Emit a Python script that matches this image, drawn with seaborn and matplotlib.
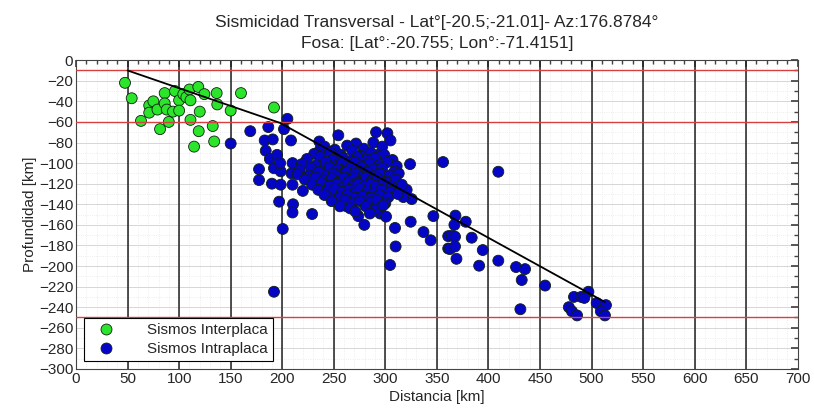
import pandas as pd
import seaborn as sns
import matplotlib.pyplot as plt
from matplotlib.ticker import MultipleLocator

# Sismos interplaca (verde)
inter_x = [47.5, 54, 63, 71, 75, 71, 79, 81.5, 86, 86, 88, 90, 94, 96, 100, 100, 104, 107,
           110, 111, 111, 114.5, 118.6, 120, 119, 124.5, 132.6, 134, 136.4, 137, 150, 160, 192]
inter_y = [-22, -37, -59, -44, -40, -51, -48, -67, -32, -42, -48, -60, -50, -30, -39, -49, -33, -36,
           -28.5, -39, -58, -84, -26, -50, -69, -33, -64, -79, -32, -43, -49, -32, -46]

# Sismos intraplaca (azul) - dispersos
intra_x = [150, 169, 186.5, 205, 201.7, 183, 190.8, 208.5, 184, 188, 195, 192, 198.5, 198, 177.5,
           177.5, 190, 198.5, 197, 210, 209, 210, 220, 210.5, 210, 229, 200.5, 236, 236.7, 254.4,
           271.6, 291, 288.4, 302, 305, 324, 356, 320.7, 325.6, 317.5, 309.4, 310, 324.6, 346.6,
           337, 344, 361, 361, 279.6, 273.8, 295, 300.7, 262.5, 249.6, 293, 409.6, 304.6, 368, 367,
           378, 364.4, 367.6, 383.8, 362.7, 367.6, 369, 394.5, 391, 409.6, 426.8, 435.5, 432.3,
           455, 431, 483, 490, 497, 493, 505, 478, 481, 486, 514, 509, 513, 192]
intra_y = [-81, -69, -65, -57, -67, -78, -77, -78, -88, -96, -92, -105, -108, -100, -106,
           -116.5, -120, -121, -137.5, -100, -110, -121, -127, -140, -148, -149.5, -164, -79, -87, -73,
           -81, -70, -80, -71, -78, -101, -99, -126, -135, -133, -163, -181, -157, -151.5,
           -167, -175, -171, -183, -160, -151.5, -149, -152, -142, -131, -92, -108.4, -199, -151, -160,
           -157, -170.5, -171.5, -172.5, -183.5, -181, -193, -184.5, -199.7, -194.8, -201, -203, -213.6,
           -219, -242, -230, -230, -225, -231, -236, -240, -244, -248, -238, -244, -248, -225]

# Sismos intraplaca - nube densa
cluster_x = [241, 251, 263, 279, 297,
             231, 246, 257, 268, 276, 286, 299,
             224, 237, 249, 259, 266, 273, 282, 290, 307,
             219, 233, 242, 252, 258, 264, 270, 278, 284, 294, 302, 311,
             217, 228, 239, 246, 254, 261, 266, 271, 277, 283, 289, 297, 309,
             215, 226, 235, 243, 250, 256, 262, 267, 272, 278, 283, 290, 295, 304, 313,
             222, 232, 240, 248, 255, 260, 265, 270, 275, 281, 287, 292, 301, 310,
             229, 238, 246, 253, 259, 264, 269, 274, 279, 286, 291, 298, 306, 316,
             235, 244, 251, 258, 265, 270, 276, 283, 289, 296, 305,
             241, 256, 263, 271, 278, 286, 294, 303, 312,
             248, 261, 268, 276, 285, 292, 300,
             256, 266, 281, 290, 298,
             271, 285]
cluster_y = [-84, -87, -83, -86, -84,
             -91, -89, -92, -88, -93, -90, -92,
             -96, -94, -97, -95, -98, -94, -97, -95, -97,
             -101, -102, -99, -103, -100, -102, -99, -103, -100, -102, -99, -103,
             -107, -105, -108, -104, -106, -108, -105, -107, -104, -108, -106, -105, -108,
             -111, -112, -109, -113, -110, -112, -109, -113, -110, -112, -109, -113, -110, -112, -110,
             -116, -114, -117, -115, -118, -114, -117, -115, -118, -114, -117, -115, -118, -116,
             -121, -119, -122, -120, -123, -119, -122, -120, -123, -120, -122, -120, -123, -121,
             -126, -127, -125, -128, -126, -129, -125, -127, -129, -126, -128,
             -131, -133, -131, -134, -132, -134, -131, -133, -130,
             -137, -136, -139, -137, -138, -136, -139,
             -142, -144, -142, -145, -141,
             -147, -149]

# Perfil de la placa
slab_x = [50, 198, 513]
slab_y = [-10, -61, -235]

# Lineas de referencia
ref_depths = [-10, -60, -250]

df = pd.concat([
    pd.DataFrame({'dist': inter_x, 'prof': inter_y, 'tipo': 'Sismos Interplaca'}),
    pd.DataFrame({'dist': intra_x + cluster_x, 'prof': intra_y + cluster_y, 'tipo': 'Sismos Intraplaca'}),
])

sns.set_theme(style='white')
plt.rcParams['font.family'] = ['Liberation Sans', 'DejaVu Sans']

fig, ax = plt.subplots(figsize=(8.14, 4.15), dpi=100)
fig.subplots_adjust(left=0.0934, right=0.980, top=0.855, bottom=0.111)

ax.set_xlim(0, 700)
ax.set_ylim(-300, 0)
ax.xaxis.set_major_locator(MultipleLocator(50))
ax.xaxis.set_minor_locator(MultipleLocator(10))
ax.yaxis.set_major_locator(MultipleLocator(20))
ax.yaxis.set_minor_locator(MultipleLocator(10))
ax.grid(True, which='major', color='#d6d6d6', lw=0.7, zorder=0)
ax.grid(True, which='minor', color='#e8e8e8', lw=0.6, ls=':', zorder=0)
ax.set_axisbelow(True)

for xv in range(50, 700, 50):
    ax.axvline(xv, color='#222222', lw=1.1, zorder=1)

sns.scatterplot(data=df, x='dist', y='prof', hue='tipo',
                palette={'Sismos Interplaca': '#2be52b', 'Sismos Intraplaca': '#0505c8'},
                s=62, edgecolor='#102010', linewidth=0.6, ax=ax, zorder=3)

for d in ref_depths:
    ax.axhline(d, color='#d84040', lw=1.0, zorder=4)
ax.plot(slab_x, slab_y, color='black', lw=1.3, zorder=5)

ax.tick_params(which='both', direction='in', top=True, right=True, labelsize=11,
               color='#444444', pad=2)
ax.tick_params(which='major', length=5)
ax.tick_params(which='minor', length=3)
for sp in ax.spines.values():
    sp.set_color('#444444')
    sp.set_linewidth(0.8)

ax.set_xlabel('Distancia [km]', fontsize=11, labelpad=3)
ax.set_ylabel('Profundidad [km]', fontsize=11, labelpad=1)
ax.set_title('Sismicidad Transversal - Lat°[-20.5;-21.01]- Az:176.8784°\nFosa: [Lat°:-20.755; Lon°:-71.4151]',
             fontsize=12.5, linespacing=1.45, pad=9)

leg = ax.legend(loc='lower left', fontsize=11, frameon=True, fancybox=False,
                edgecolor='black', framealpha=1, borderpad=0.35, handletextpad=1.6,
                handlelength=2.2, borderaxespad=0.5, labelspacing=0.3, title=None)
leg.get_frame().set_linewidth(0.8)

fig.savefig('out.png', dpi=100)
